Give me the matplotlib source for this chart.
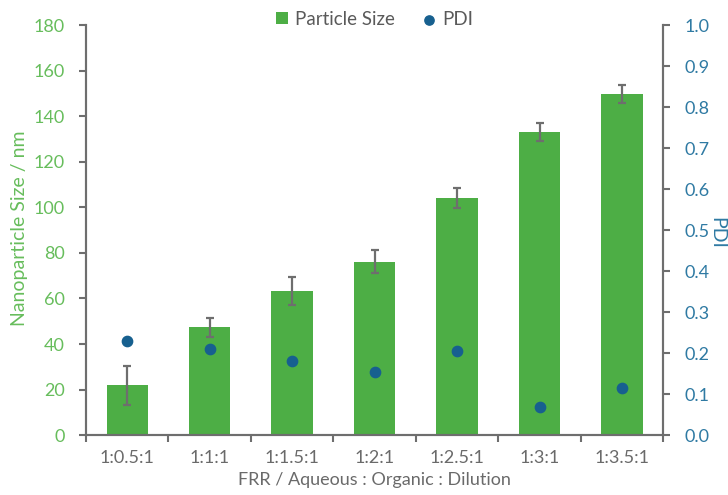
import matplotlib.pyplot as plt

# formulations (FRR / Aqueous : Organic : Dilution)
labels = ['1:0.5:1', '1:1:1', '1:1.5:1', '1:2:1', '1:2.5:1', '1:3:1', '1:3.5:1']
size_nm = [21.8, 47.4, 63.3, 76.2, 104.0, 133.2, 149.7]
size_err = [8.6, 4.1, 6.0, 5.0, 4.4, 4.0, 4.0]
pdi = [0.229, 0.210, 0.180, 0.154, 0.205, 0.069, 0.114]

green = '#4dae45'
green_txt = '#67bd5c'
blue = '#17608f'
blue_txt = '#2f7aa3'
grey = '#6e6e6e'

plt.rcParams['font.family'] = ['Lato', 'DejaVu Sans']

fig = plt.figure(figsize=(7.28, 4.95), dpi=100)
ax = fig.add_axes([0.118, 0.121, 0.793, 0.828])
ax2 = ax.twinx()

x = list(range(len(labels)))
ax.bar(x, size_nm, width=0.5, color=green, zorder=2, label='Particle Size')
ax.errorbar(x, size_nm, yerr=size_err, fmt='none', ecolor=grey, elinewidth=1.6,
            capsize=3, capthick=1.6, zorder=3)
ax2.scatter(x, pdi, s=55, color=blue, zorder=4, label='PDI')

ax.set_xlim(-0.5, 6.5)
ax.set_ylim(0, 180)
ax.set_yticks(range(0, 181, 20))
ax2.set_ylim(0, 1.0)
ax2.set_yticks([i / 10 for i in range(11)])
ax2.set_yticklabels([f'{i / 10:.1f}' for i in range(11)])

# boundary ticks between groups, labels centred under each bar
ax.set_xticks([i - 0.5 for i in range(8)], minor=False)
ax.set_xticklabels([])
ax.set_xticks(x, minor=True)
ax.set_xticklabels(labels, minor=True, fontsize=13, color='#6a6a6a')
ax.tick_params(axis='x', which='minor', length=0, pad=11)
ax.tick_params(axis='x', which='major', length=5, width=1.5, color=grey)

ax.tick_params(axis='y', length=5, width=1.5, color=grey, labelcolor=green_txt,
               labelsize=13, pad=10)
ax2.tick_params(axis='y', length=5, width=1.5, color=grey, labelcolor=blue_txt,
                labelsize=13, pad=10)

for a in (ax, ax2):
    a.spines['top'].set_visible(False)
    for s in ('left', 'right', 'bottom'):
        a.spines[s].set_color(grey)
        a.spines[s].set_linewidth(1.5)

ax.set_xlabel('FRR / Aqueous : Organic : Dilution', fontsize=13, color='#6a6a6a', labelpad=4)

# axis titles placed by hand so they sit next to the tick labels
fig.text(20 / 728, 1 - 228 / 495, 'Nanoparticle Size / nm', fontsize=14, color=green_txt,
         rotation=90, ha='center', va='center')
fig.text(717 / 728, 1 - 233 / 495, 'PDI', fontsize=14, color=blue_txt,
         rotation=-90, ha='center', va='center')

h1, l1 = ax.get_legend_handles_labels()
h2, l2 = ax2.get_legend_handles_labels()
leg = ax.legend(h1 + h2, l1 + l2, loc='center', bbox_to_anchor=(0.5, 1.015), ncol=2,
                frameon=False, fontsize=13.5, handlelength=0.6, handleheight=0.6,
                handletextpad=0.4, columnspacing=1.5, markerscale=0.9)
for t in leg.get_texts():
    t.set_color('#5a5a5a')

fig.savefig('out.png', dpi=100)
